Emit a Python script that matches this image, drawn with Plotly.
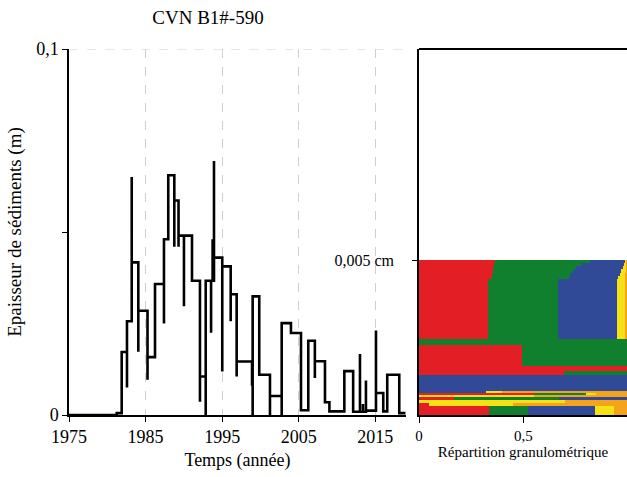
import plotly.graph_objects as go

# ---- Sediment thickness time series (step profile, m) ----
# repeated years give the short vertical spikes of the record
years = [
    1975.00, 1981.23, 1981.88, 1982.57, 1982.57, 1983.19, 1983.19, 1984.05, 1984.05,
    1985.25, 1985.25, 1986.23, 1987.40, 1987.40, 1987.96, 1988.75, 1988.75, 1989.30,
    1989.30, 1990.01, 1990.01, 1991.06, 1992.10, 1992.10, 1992.85, 1992.85, 1993.55,
    1993.55, 1993.75, 1993.75, 1993.93, 1993.93, 1995.01, 1995.01, 1996.11, 1996.11,
    1996.89, 1996.89, 1998.90, 1998.90, 1998.98, 1998.98, 1999.84, 2001.24, 2001.24,
    2002.77, 2002.77, 2003.98, 2005.29, 2006.24, 2007.10, 2007.10, 2008.42, 2009.00,
    2010.95, 2012.10, 2012.99, 2012.99, 2013.38, 2013.38, 2013.77, 2013.77, 2015.08,
    2015.08, 2016.03, 2016.55, 2018.12, 2018.93,
]
thickness = [
    0.0000, 0.0005, 0.0172, 0.0075, 0.0256, 0.0650, 0.0417, 0.0173, 0.0285,
    0.0096, 0.0158, 0.0358, 0.0250, 0.0480, 0.0655, 0.0460, 0.0586, 0.0460,
    0.0490, 0.0297, 0.0490, 0.0367, 0.0036, 0.0105, 0.0000, 0.0367, 0.0225,
    0.0367, 0.0480, 0.0367, 0.0694, 0.0430, 0.0119, 0.0406, 0.0256, 0.0330,
    0.0105, 0.0146, 0.0080, 0.0146, 0.0000, 0.0324, 0.0110, 0.0000, 0.0052,
    0.0000, 0.0251, 0.0224, 0.0013, 0.0203, 0.0101, 0.0147, 0.0035, 0.0010,
    0.0120, 0.0009, 0.0167, 0.0009, 0.0030, 0.0009, 0.0094, 0.0012, 0.0231,
    0.0060, 0.0010, 0.0110, 0.0005, 0.0005,
]
year_ticks = [1975, 1985, 1995, 2005, 2015]

# ---- Grain-size distribution of the deposit (layer bounds in cm, top -> bottom) ----
layer_bounds = [0.00500, 0.00490, 0.00480, 0.00470, 0.00460, 0.00450, 0.00440, 0.00247,
                0.00225, 0.00158, 0.00141, 0.00129, 0.00079, 0.00073, 0.00065, 0.00057,
                0.00048, 0.00040, 0.00028, 0.0]
frac_class1 = [0.362, 0.359, 0.356, 0.353, 0.350, 0.348, 0.329, 0.0, 0.492, 1.0, 0.697,
               0.0, 0.0, 0.55, 0.0, 0.17, 0.0, 0.05, 0.336]
frac_class2 = [0.458, 0.416, 0.396, 0.385, 0.376, 0.370, 0.336, 1.0, 0.508, 0.0, 0.303,
               0.0, 0.0, 0.25, 0.0, 0.50, 0.0, 0.0, 0.188]
frac_class3 = [0.170, 0.210, 0.226, 0.232, 0.236, 0.237, 0.283, 0.0, 0.0, 0.0, 0.0,
               1.0, 0.32, 0.0, 0.0, 0.33, 0.0, 0.0, 0.320]
frac_class4 = [0.007, 0.010, 0.015, 0.020, 0.026, 0.032, 0.039, 0.0, 0.0, 0.0, 0.0,
               0.0, 0.08, 0.05, 0.55, 0.0, 0.70, 0.40, 0.091]
frac_class5 = [0.003, 0.005, 0.007, 0.010, 0.012, 0.013, 0.013, 0.0, 0.0, 0.0, 0.0,
               0.0, 0.60, 0.15, 0.45, 0.0, 0.30, 0.55, 0.065]
class_colors = ["#E31E24", "#10802F", "#314A97", "#F4E215", "#F5A31A"]

FONT = "Liberation Serif"

fig = go.Figure()

fig.add_trace(go.Scatter(
    x=years, y=thickness, mode="lines", line=dict(color="black", width=2.6, shape="hv"),
    xaxis="x", yaxis="y", showlegend=False, hoverinfo="skip",
))

mids = [(layer_bounds[i] + layer_bounds[i + 1]) / 2 for i in range(len(layer_bounds) - 1)]
widths = [layer_bounds[i] - layer_bounds[i + 1] for i in range(len(layer_bounds) - 1)]
for fr, col in zip([frac_class1, frac_class2, frac_class3, frac_class4, frac_class5], class_colors):
    fig.add_trace(go.Bar(
        x=fr, y=mids, width=widths, orientation="h", marker=dict(color=col, line=dict(width=0)),
        xaxis="x2", yaxis="y2", showlegend=False, hoverinfo="skip",
    ))

W, H = 627, 477
ml, mr, mt, mb = 69, 0, 49, 62
pw = W - ml - mr
left_end = (406 - ml) / pw
right_start = (419 - ml) / pw

fig.update_layout(
    width=W, height=H, margin=dict(l=ml, r=mr, t=mt, b=mb),
    paper_bgcolor="white", plot_bgcolor="white",
    font=dict(family=FONT, size=18, color="black"),
    barmode="stack", bargap=0,
    title=dict(text="CVN B1#-590", x=208 / W, xanchor="center", y=1 - 17 / H, yanchor="middle",
               font=dict(family=FONT, size=19, color="black")),
    xaxis=dict(
        domain=[0, left_end], range=[1975, 2019], tickvals=year_ticks,
        showline=True, linecolor="black", linewidth=1.5, ticks="outside", ticklen=5,
        tickcolor="black", showgrid=True, gridcolor="#cfcfcf", griddash="dash", gridwidth=1,
        zeroline=False, tickfont=dict(size=18),
        title=dict(text="Temps (année)", standoff=7, font=dict(size=18)),
    ),
    yaxis=dict(
        domain=[0, 1], range=[0, 0.1], tickvals=[0, 0.05, 0.1], ticktext=["0", "", "0,1"],
        showline=True, linecolor="black", linewidth=1.5, ticks="outside", ticklen=5,
        tickcolor="black", showgrid=False, zeroline=False, tickfont=dict(size=18),
        title=dict(text="Epaisseur de sédiments (m)", standoff=10, font=dict(size=19)),
    ),
    xaxis2=dict(
        domain=[right_start, 1], range=[0, (627 - 419) / 208.6], tickvals=[0, 0.5],
        ticktext=["0", "0,5"], showline=True, linecolor="black", linewidth=1.5,
        ticks="outside", ticklen=6, tickcolor="black", showgrid=False, zeroline=False,
        tickfont=dict(size=15), anchor="y2",
        title=dict(text="Répartition granulométrique", standoff=4, font=dict(size=15)),
    ),
    yaxis2=dict(
        domain=[0, 1], range=[0, 0.005 * 366 / 154.8], tickvals=[0.005], ticktext=["0,005 cm"],
        showline=True, linecolor="black", linewidth=1.5, ticks="outside", ticklen=5,
        tickcolor="black", showgrid=False, zeroline=False, tickfont=dict(size=16),
        ticklabelstandoff=15, anchor="x2",
    ),
    shapes=[
        dict(type="line", xref="x domain", yref="y", x0=0, x1=1, y0=0.1, y1=0.1,
             line=dict(color="#cfcfcf", width=1, dash="dash"), layer="below"),
        dict(type="line", xref="x2 domain", yref="y2 domain", x0=0, x1=1, y0=1, y1=1,
             line=dict(color="black", width=2)),
    ],
)

fig.write_html("out.html")
